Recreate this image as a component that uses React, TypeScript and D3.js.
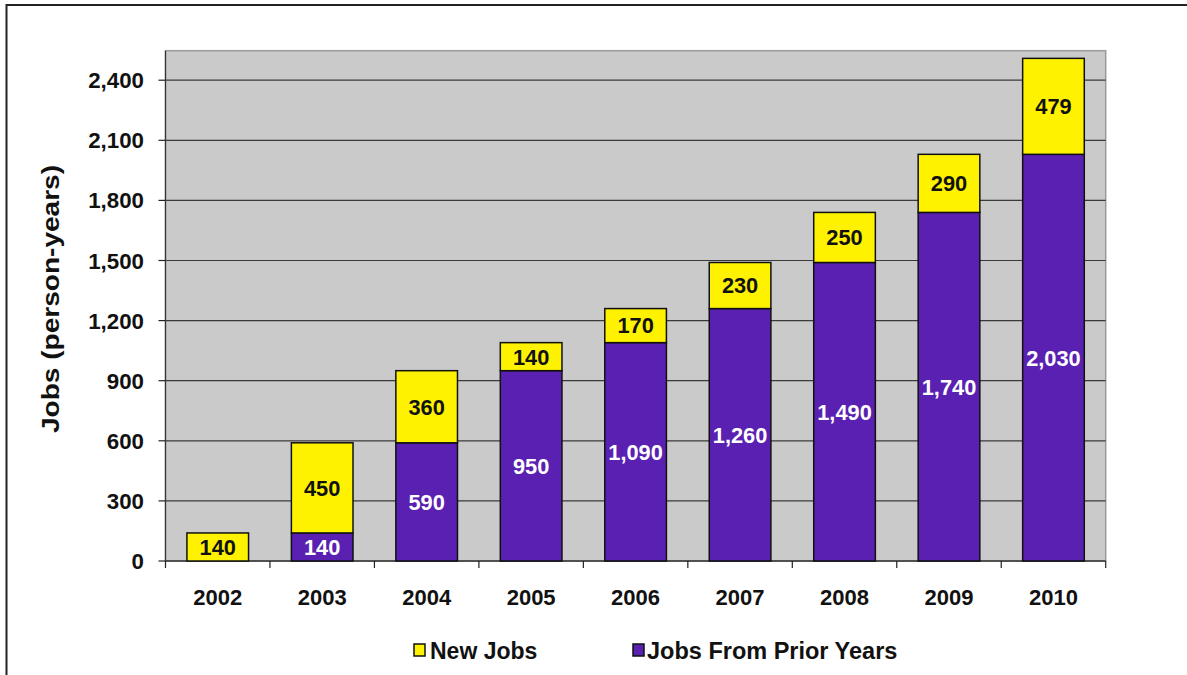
import React from "react";
import * as d3 from "d3";

const years = ["2002", "2003", "2004", "2005", "2006", "2007", "2008", "2009", "2010"];
const priorJobs = [0, 140, 590, 950, 1090, 1260, 1490, 1740, 2030];
const newJobs = [140, 450, 360, 140, 170, 230, 250, 290, 479];
const yTicks = [0, 300, 600, 900, 1200, 1500, 1800, 2100, 2400];
const seriesNames = ["New Jobs", "Jobs From Prior Years"];

const W = 1187;
const H = 675;
const plotLeft = 165.5;
const plotRight = 1105.7;
const plotTop = 50.7;
const plotBottom = 561;

const YELLOW = "#fff200";
const PURPLE = "#5a20b2";
const FONT = "'Liberation Sans', Arial, sans-serif";

export default function App() {
  const x = d3
    .scaleBand<string>()
    .domain(years)
    .range([plotLeft, plotRight])
    .paddingInner(0.41)
    .paddingOuter(0.205);
  const step = x.step();
  const y = d3.scaleLinear().domain([0, 2400]).range([plotBottom, 80.2]);
  const fmt = d3.format(",");

  return (
    <svg
      width={W}
      height={H}
      style={{ position: "absolute", left: 0, top: 0, background: "#fff" }}
      fontFamily={FONT}
      fontWeight="bold"
    >
      {/* outer frame */}
      <rect x={6.5} y={5} width={W + 20} height={H + 20} fill="#fff" stroke="#222" strokeWidth={2} />

      {/* plot area */}
      <rect x={plotLeft} y={plotTop} width={plotRight - plotLeft} height={plotBottom - plotTop} fill="#cacaca" stroke="#9a9a9a" strokeWidth={1.5} />

      {/* gridlines + y ticks */}
      {yTicks.map((t) => (
        <g key={t}>
          {t > 0 && (
            <line x1={plotLeft} x2={plotRight} y1={y(t)} y2={y(t)} stroke="#3a3a3a" strokeWidth={1.2} />
          )}
          <line x1={plotLeft - 7} x2={plotLeft} y1={y(t)} y2={y(t)} stroke="#222" strokeWidth={1.2} />
          <text x={144} y={y(t)} dy="0.36em" textAnchor="end" fontSize={22.3} fill="#111">
            {fmt(t)}
          </text>
        </g>
      ))}

      {/* axes */}
      <line x1={plotLeft} x2={plotLeft} y1={plotTop} y2={plotBottom} stroke="#333" strokeWidth={1.2} />
      <line x1={plotLeft} x2={plotRight} y1={plotBottom} y2={plotBottom} stroke="#333" strokeWidth={1.5} />
      {d3.range(years.length + 1).map((i) => (
        <line
          key={i}
          x1={plotLeft + i * step}
          x2={plotLeft + i * step}
          y1={plotBottom}
          y2={plotBottom + 7}
          stroke="#222"
          strokeWidth={1.2}
        />
      ))}

      {/* bars */}
      {years.map((yr, i) => {
        const bx = x(yr)!;
        const bw = x.bandwidth();
        const p = priorJobs[i];
        const n = newJobs[i];
        const cx = bx + bw / 2;
        return (
          <g key={yr}>
            {p > 0 && (
              <rect x={bx} y={y(p)} width={bw} height={y(0) - y(p)} fill={PURPLE} stroke="#111" strokeWidth={1.5} />
            )}
            <rect x={bx} y={y(p + n)} width={bw} height={y(p) - y(p + n)} fill={YELLOW} stroke="#111" strokeWidth={1.5} />
            {p > 0 && (
              <text x={cx} y={(y(0) + y(p)) / 2} dy="0.36em" textAnchor="middle" fontSize={21.8} fill="#fff">
                {fmt(p)}
              </text>
            )}
            <text x={cx} y={(y(p) + y(p + n)) / 2} dy="0.36em" textAnchor="middle" fontSize={21.8} fill="#111">
              {fmt(n)}
            </text>
            <text x={cx} y={605} textAnchor="middle" fontSize={22} fill="#111">
              {yr}
            </text>
          </g>
        );
      })}

      {/* y-axis title */}
      <text
        transform={`translate(59,299) rotate(-90)`}
        textAnchor="middle"
        fontSize={24}
        fill="#111"
        textLength={268}
        lengthAdjust="spacingAndGlyphs"
      >
        Jobs (person-years)
      </text>

      {/* legend */}
      <rect x={414} y={644} width={11} height={12} fill={YELLOW} stroke="#111" strokeWidth={1.5} />
      <text x={430} y={659} fontSize={23} fill="#111">
        {seriesNames[0]}
      </text>
      <rect x={633} y={644} width={11} height={12} fill={PURPLE} stroke="#111" strokeWidth={1.5} />
      <text x={647} y={659} fontSize={23.5} fill="#111">
        {seriesNames[1]}
      </text>
    </svg>
  );
}
